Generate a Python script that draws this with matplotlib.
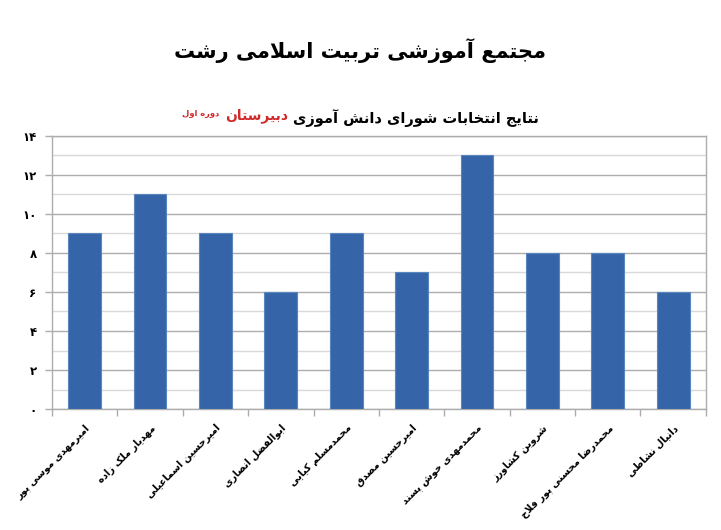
import matplotlib
matplotlib.use("Agg")
import matplotlib.pyplot as plt
from matplotlib.offsetbox import TextArea, HPacker, AnchoredOffsetbox
from matplotlib.ticker import MultipleLocator

# ---------------- data ----------------
names = ["امیرمهدی موسی پور", "مهدیار ملک زاده", "امیرحسین اسماعیلی",
         "ابوالفضل انصاری", "محمدمسلم کیایی", "امیرحسین مصدق",
         "محمدمهدی خوش پسند", "شروین کشاورز", "محمدرضا محسنی پور فلاح",
         "دانیال نشاطی"]
votes = [9, 11, 9, 6, 9, 7, 13, 8, 8, 6]
yticks = [0, 2, 4, 6, 8, 10, 12, 14]
title_text = "مجتمع آموزشی تربیت اسلامی رشت"
sub_black = "نتایج انتخابات شورای دانش آموزی"
sub_red = "دبیرستان"
sub_small = "دوره اول"

# ---------------- simple Arabic/Persian shaper ----------------
FORMS = {
    'ا': (0xFE8D, 0xFE8E, None, None), 'آ': (0xFE81, 0xFE82, None, None),
    'ب': (0xFE8F, 0xFE90, 0xFE91, 0xFE92), 'پ': (0xFB56, 0xFB57, 0xFB58, 0xFB59),
    'ت': (0xFE95, 0xFE96, 0xFE97, 0xFE98), 'ث': (0xFE99, 0xFE9A, 0xFE9B, 0xFE9C),
    'ج': (0xFE9D, 0xFE9E, 0xFE9F, 0xFEA0), 'چ': (0xFB7A, 0xFB7B, 0xFB7C, 0xFB7D),
    'ح': (0xFEA1, 0xFEA2, 0xFEA3, 0xFEA4), 'خ': (0xFEA5, 0xFEA6, 0xFEA7, 0xFEA8),
    'د': (0xFEA9, 0xFEAA, None, None), 'ذ': (0xFEAB, 0xFEAC, None, None),
    'ر': (0xFEAD, 0xFEAE, None, None), 'ز': (0xFEAF, 0xFEB0, None, None),
    'ژ': (0xFB8A, 0xFB8B, None, None),
    'س': (0xFEB1, 0xFEB2, 0xFEB3, 0xFEB4), 'ش': (0xFEB5, 0xFEB6, 0xFEB7, 0xFEB8),
    'ص': (0xFEB9, 0xFEBA, 0xFEBB, 0xFEBC), 'ض': (0xFEBD, 0xFEBE, 0xFEBF, 0xFEC0),
    'ط': (0xFEC1, 0xFEC2, 0xFEC3, 0xFEC4), 'ظ': (0xFEC5, 0xFEC6, 0xFEC7, 0xFEC8),
    'ع': (0xFEC9, 0xFECA, 0xFECB, 0xFECC), 'غ': (0xFECD, 0xFECE, 0xFECF, 0xFED0),
    'ف': (0xFED1, 0xFED2, 0xFED3, 0xFED4), 'ق': (0xFED5, 0xFED6, 0xFED7, 0xFED8),
    'ک': (0xFB8E, 0xFB8F, 0xFB90, 0xFB91), 'گ': (0xFB92, 0xFB93, 0xFB94, 0xFB95),
    'ل': (0xFEDD, 0xFEDE, 0xFEDF, 0xFEE0), 'م': (0xFEE1, 0xFEE2, 0xFEE3, 0xFEE4),
    'ن': (0xFEE5, 0xFEE6, 0xFEE7, 0xFEE8), 'و': (0xFEED, 0xFEEE, None, None),
    'ه': (0xFEE9, 0xFEEA, 0xFEEB, 0xFEEC), 'ی': (0xFBFC, 0xFBFD, 0xFBFE, 0xFBFF),
    'ئ': (0xFE89, 0xFE8A, 0xFE8B, 0xFE8C),
}
LAMALEF = {'ا': (0xFEFB, 0xFEFC), 'آ': (0xFEF5, 0xFEF6)}


def dual(c):
    return c in FORMS and FORMS[c][2] is not None


def shape(text):
    chars = list(text)
    out = []
    i = 0
    n = len(chars)
    while i < n:
        c = chars[i]
        if c not in FORMS:
            out.append(c)
            i += 1
            continue
        prev_join = i > 0 and dual(chars[i - 1])
        if c == 'ل' and i + 1 < n and chars[i + 1] in LAMALEF:
            iso, fin = LAMALEF[chars[i + 1]]
            out.append(chr(fin if prev_join else iso))
            i += 2
            continue
        next_join = dual(c) and i + 1 < n and chars[i + 1] in FORMS
        iso, fin, ini, med = FORMS[c]
        if prev_join and next_join:
            g = med
        elif prev_join:
            g = fin
        elif next_join:
            g = ini
        else:
            g = iso
        out.append(chr(g))
        i += 1
    return ''.join(reversed(out))


def fa_digits(v):
    return str(v).translate(str.maketrans('0123456789', '۰۱۲۳۴۵۶۷۸۹'))


# ---------------- figure ----------------
plt.rcParams['font.family'] = ['DejaVu Sans']
fig = plt.figure(figsize=(7.21, 5.30), dpi=100)
ax = fig.add_axes([0.0721, 0.2283, 0.9069, 0.5151])

x = list(range(len(names)))
ax.bar(x, votes, width=0.5, color='#3565A8', edgecolor='#5A86C0',
       linewidth=0.8, zorder=3)

ax.set_xlim(-0.5, len(names) - 0.5)
ax.set_ylim(0, 14)
ax.set_yticks(yticks, [fa_digits(v) for v in yticks])
ax.yaxis.set_minor_locator(MultipleLocator(1))
ax.grid(axis='y', which='major', color='#ADADAD', linewidth=1, zorder=0)
ax.grid(axis='y', which='minor', color='#D9D9D9', linewidth=1, zorder=0)

ax.set_xticks(x, [shape(s) for s in names], rotation=45, ha='right',
              rotation_mode='anchor', fontsize=7, fontweight='bold')
ax.set_xticks([v - 0.5 for v in range(len(names) + 1)], minor=True)
ax.tick_params(axis='x', which='major', length=0, pad=10)
ax.tick_params(axis='x', which='minor', length=5, color='#ADADAD', width=1)
ax.tick_params(axis='y', which='major', length=5, color='#ADADAD', width=1,
               labelsize=8.5, pad=6)
ax.tick_params(axis='y', which='minor', length=0)
for tl in ax.get_yticklabels():
    tl.set_fontweight('bold')
for sp in ax.spines.values():
    sp.set_color('#ADADAD')
    sp.set_linewidth(1)

# title
fig.text(0.5, 0.905, shape(title_text), ha='center', va='center',
         fontsize=15, fontweight='bold', color='black')

# subtitle (visual order left -> right)
t_small = TextArea(shape(sub_small), textprops=dict(color='#D02A2A', fontsize=6,
                                                      fontweight='bold'))
t_red = TextArea(shape(sub_red), textprops=dict(color='#D02A2A', fontsize=10,
                                                  fontweight='bold'))
t_black = TextArea(shape(sub_black), textprops=dict(color='black', fontsize=10.5,
                                                      fontweight='bold'))
pack = HPacker(children=[t_small, t_red, t_black], align='top', pad=0, sep=4)
box = AnchoredOffsetbox(loc='center', child=pack, frameon=False,
                        bbox_to_anchor=(0.5, 0.778), bbox_transform=fig.transFigure,
                        borderpad=0)
fig.add_artist(box)

fig.savefig('out.png', dpi=100)
